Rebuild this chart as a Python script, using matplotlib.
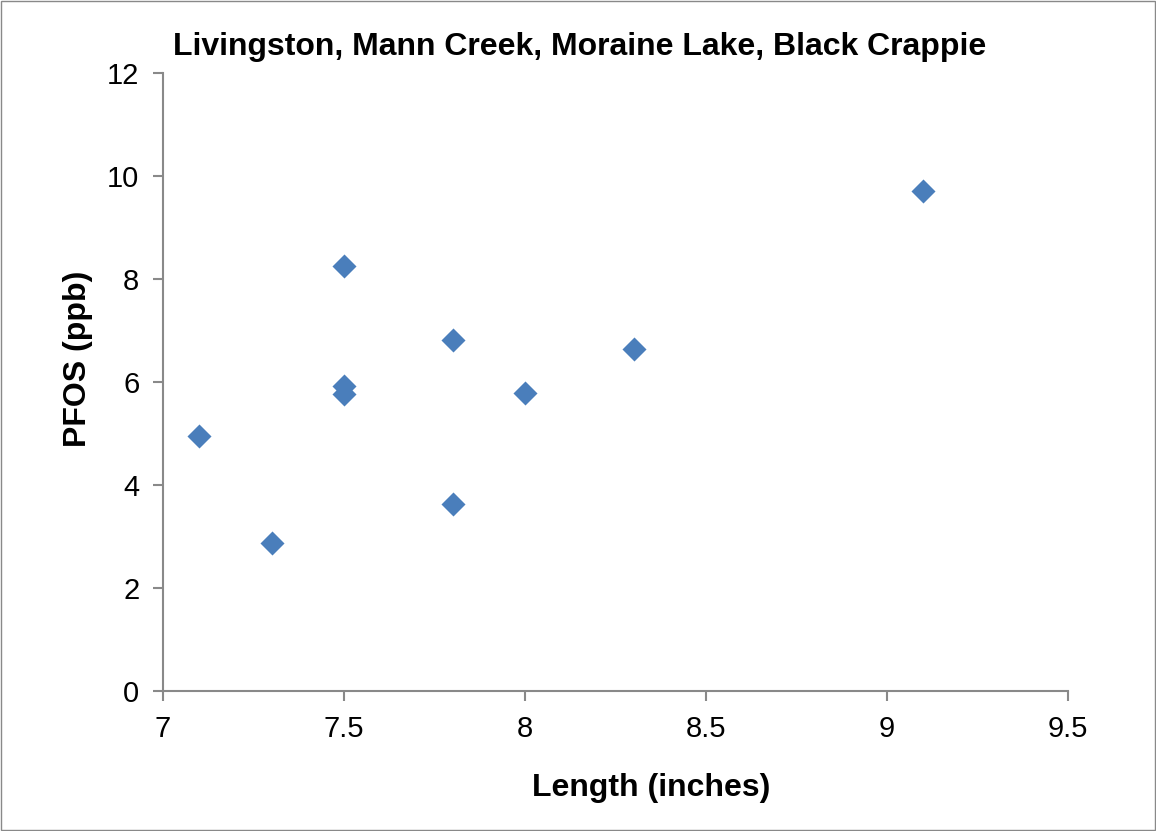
import numpy as np
from matplotlib import pyplot as plt

plt.rcParams['font.family'] = ['Liberation Sans', 'DejaVu Sans']

# fish length (inches) and PFOS (ppb)
length = [7.1, 7.3, 7.5, 7.5, 7.5, 7.8, 7.8, 8.0, 8.3, 9.1]
pfos = [4.95, 2.87, 8.25, 5.92, 5.77, 6.81, 3.63, 5.79, 6.65, 9.71]

xticks = [7, 7.5, 8, 8.5, 9, 9.5]
yticks = [0, 2, 4, 6, 8, 10, 12]

axis_grey = "#898989"

fig = plt.figure(figsize=(11.56, 8.31), dpi=100)
ax = fig.add_axes([0.141, 0.1685, 0.783, 0.7435])

ax.scatter(length, pfos, marker='D', s=150, color="#4A7EBB", linewidths=0, zorder=3)

ax.set_xlim(7, 9.5)
ax.set_ylim(0, 12)
ax.set_xticks(xticks)
ax.set_xticklabels([f"{t:g}" for t in xticks])
ax.set_yticks(yticks)

for side in ['top', 'right']:
    ax.spines[side].set_visible(False)
for side in ['left', 'bottom']:
    ax.spines[side].set_color(axis_grey)
    ax.spines[side].set_linewidth(1.5)
ax.tick_params(direction='out', length=7, width=1.5, color=axis_grey,
               labelsize=21, pad=10)

# axis titles placed like the excel original (not centred on the axes)
fig.text(651 / 1156, 1 - 788 / 831, "Length (inches)", ha='center', va='center',
         fontsize=23, fontweight='bold')
fig.text(78 / 1156, 1 - 359 / 831, "PFOS (ppb)", ha='center', va='center',
         rotation=90, fontsize=23, fontweight='bold')
fig.text(580 / 1156, 1 - 47 / 831, "Livingston, Mann Creek, Moraine Lake, Black Crappie",
         ha='center', va='center', fontsize=23, fontweight='bold')

# thin border round the whole chart
fig.patches.append(plt.Rectangle((0.001, 0.001), 0.998, 0.998, transform=fig.transFigure,
                                 fill=False, edgecolor=axis_grey, linewidth=1))

plt.savefig("out.png", dpi=100)
